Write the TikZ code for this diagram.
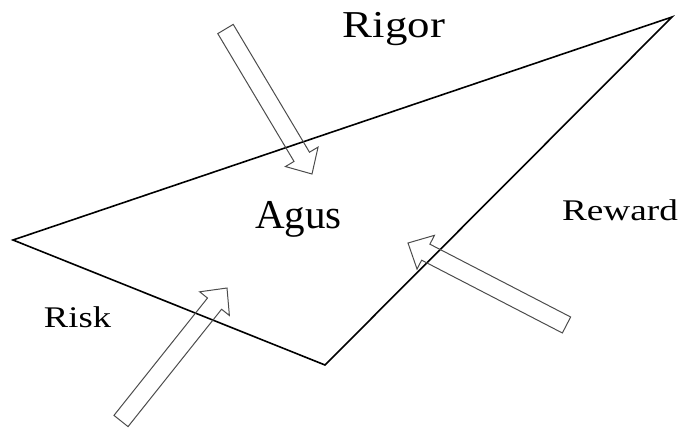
\documentclass[tikz,border=0pt]{standalone}
\usepackage{fontspec}
\setmainfont{Liberation Serif}
\usetikzlibrary{calc}
\tikzset{
  tri/.style={draw=black, line width=1.6pt, line join=miter},
  blk/.style={draw=black!70, line width=1pt, line join=miter},
  lbl/.style={anchor=base, inner sep=0pt, text=black}
}
\newcommand\blkarrow[2]{%
  \coordinate (#1B) at ($(#2)!20pt!(#1)$);
  \draw[blk] ($(#1)!9pt!90:(#2)$) -- ($(#1B)!9pt!90:(#2)$) -- ($(#1B)!19pt!90:(#2)$)
    -- (#2) -- ($(#1B)!19pt!-90:(#2)$) -- ($(#1B)!9pt!-90:(#2)$) -- ($(#1)!9pt!-90:(#2)$) -- cycle;
}
\begin{document}
\begin{tikzpicture}[x=1pt,y=-1pt]
\useasboundingbox (0,0) rectangle (684,431);
\coordinate (L) at (13,240);
\coordinate (Bt) at (325,365);
\coordinate (TR) at (672,17);
\draw[tri] (L) -- (Bt) -- (TR) -- cycle;
\coordinate (Ta) at (225.5,29);
\coordinate (Pa) at (312,174);
\coordinate (Tb) at (121,421);
\coordinate (Pb) at (227,288);
\coordinate (Tc) at (566.5,325);
\coordinate (Pc) at (408,243);
\blkarrow{Ta}{Pa}
\blkarrow{Tb}{Pb}
\blkarrow{Tc}{Pc}
\node[lbl, xscale=1.18] (rigor) at (394,37) {\fontsize{38}{40}\selectfont Rigor};
\node[lbl] (agus) at (298.5,228) {\fontsize{41}{43}\selectfont Agus};
\node[lbl, xscale=1.24] (reward) at (620,220) {\fontsize{30}{32}\selectfont Reward};
\node[lbl, xscale=1.22] (risk) at (77.5,327) {\fontsize{30}{32}\selectfont Risk};
\end{tikzpicture}
\end{document}
